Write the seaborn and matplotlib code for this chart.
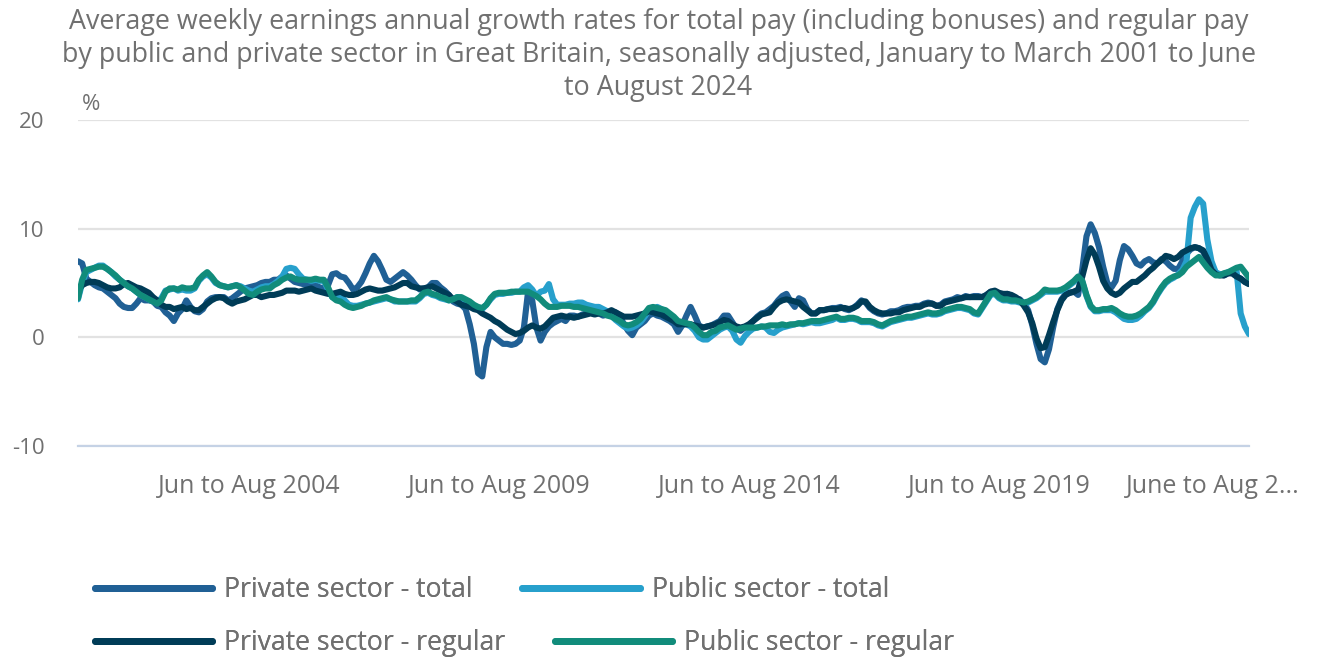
import numpy as np
import pandas as pd
import matplotlib
matplotlib.use("Agg")
import matplotlib.pyplot as plt
from matplotlib.lines import Line2D
from matplotlib.transforms import ScaledTranslation
import seaborn as sns

# --- DATA (one value per rolling 3-month period) ---
# first period: Jan to Mar 2001, last period: Jun to Aug 2024
TITLE_LINES = [
    "Average weekly earnings annual growth rates for total pay (including bonuses) and regular pay",
    "by public and private sector in Great Britain, seasonally adjusted, January to March 2001 to June",
    "to August 2024",
]
Y_UNIT = "%"
TICK_PERIODS = [41, 101, 161, 221, 281]
TICK_LABELS = ["Jun to Aug 2004", "Jun to Aug 2009", "Jun to Aug 2014",
               "Jun to Aug 2019", "June to Aug 2..."]
SERIES = ["Private sector - total", "Public sector - total",
          "Private sector - regular", "Public sector - regular"]
COLORS = ["#206095", "#27a0cc", "#003c57", "#118c7b"]

private_total = [
    7.0, 6.8, 5.4, 5.1, 4.8, 4.6, 4.5, 4.2, 3.9, 3.6, 3.1, 2.8,
    2.7, 2.7, 3.1, 3.6, 3.4, 3.4, 3.3, 2.9, 2.8, 2.3, 2.0, 1.5,
    2.2, 2.6, 3.4, 2.8, 2.4, 2.3, 2.6, 3.3, 3.6, 3.7, 3.7, 3.7,
    3.4, 3.6, 3.9, 4.2, 4.5, 4.6, 4.7, 4.8, 5.0, 5.1, 5.1, 5.3,
    5.3, 5.6, 5.7, 5.4, 5.1, 5.0, 4.9, 4.8, 5.0, 4.8, 4.6, 4.5,
    4.8, 5.8, 5.9, 5.6, 5.5, 5.0, 4.4, 4.6, 5.1, 5.9, 6.8, 7.5,
    7.0, 6.2, 5.3, 5.1, 5.4, 5.7, 6.0, 5.7, 5.3, 4.8, 4.4, 4.5,
    4.6, 5.0, 5.0, 4.6, 4.3, 3.9, 3.3, 3.1, 3.0, 2.6, 1.2, -0.6,
    -3.3, -3.6, -0.9, 0.5, 0.0, -0.3, -0.6, -0.6, -0.7, -0.6, -0.3, 0.9,
    4.2, 3.4, 0.9, -0.3, 0.5, 1.0, 1.3, 1.5, 1.7, 1.5, 2.0, 2.0,
    1.9, 2.1, 2.2, 2.3, 2.4, 2.2, 2.0, 2.1, 2.2, 2.3, 2.0, 1.2,
    0.6, 0.2, 0.9, 1.2, 1.5, 2.0, 2.2, 2.0, 1.9, 1.7, 1.5, 1.2,
    0.5, 1.1, 2.0, 2.8, 2.0, 1.1, 0.9, 1.0, 1.1, 1.3, 1.5, 2.0,
    2.0, 1.4, 0.8, 0.6, 0.9, 1.1, 1.5, 1.9, 2.2, 2.3, 2.6, 2.9,
    3.4, 3.8, 4.0, 3.3, 2.8, 3.6, 3.4, 2.6, 2.2, 2.2, 2.5, 2.5,
    2.6, 2.7, 2.7, 2.8, 2.6, 2.5, 2.7, 3.0, 3.4, 3.2, 2.7, 2.4,
    2.2, 2.1, 2.2, 2.4, 2.4, 2.5, 2.7, 2.8, 2.8, 2.9, 2.9, 3.1,
    3.2, 3.1, 2.9, 3.0, 3.3, 3.4, 3.5, 3.7, 3.6, 3.8, 3.7, 3.8,
    3.8, 3.7, 3.9, 4.2, 4.2, 4.0, 3.9, 4.0, 3.8, 3.6, 3.5, 3.1,
    2.5, 1.1, -0.6, -2.0, -2.3, -1.1, 0.9, 2.6, 3.5, 4.0, 4.1, 4.2,
    3.9, 6.3, 9.3, 10.4, 9.6, 8.3, 6.5, 5.0, 4.6, 5.2, 7.1, 8.4,
    8.1, 7.5, 6.8, 6.6, 7.0, 7.2, 6.9, 6.8, 7.2, 7.0, 6.6, 6.3,
    6.3, 7.0, 7.7, 8.1, 8.3, 8.2, 7.9, 7.1, 6.2, 5.8, 5.8, 5.7,
    5.9, 5.9, 5.6, 5.4, 5.1, 4.9,
]

public_total = [
    3.5, 5.0, 6.0, 6.2, 6.4, 6.6, 6.6, 6.3, 6.0, 5.6, 5.3, 5.0,
    4.7, 4.5, 4.2, 3.9, 3.7, 3.5, 3.3, 3.2, 3.6, 4.3, 4.4, 4.5,
    4.3, 4.4, 4.3, 4.3, 4.5, 5.2, 5.6, 5.8, 5.5, 5.0, 4.8, 4.7,
    4.6, 4.7, 4.8, 4.7, 4.5, 4.3, 4.2, 4.4, 4.6, 4.7, 4.7, 4.9,
    5.2, 5.6, 6.3, 6.4, 6.3, 5.8, 5.4, 5.3, 5.2, 5.3, 5.2, 5.2,
    4.4, 3.7, 3.6, 3.8, 3.4, 3.0, 2.9, 2.9, 3.0, 3.1, 3.2, 3.3,
    3.4, 3.5, 3.6, 3.5, 3.3, 3.3, 3.3, 3.3, 3.3, 3.3, 3.6, 4.0,
    4.1, 3.9, 3.8, 3.6, 3.5, 3.4, 3.5, 3.7, 3.6, 3.4, 3.2, 2.9,
    2.7, 2.6, 3.0, 3.5, 3.9, 4.0, 4.0, 4.1, 4.1, 4.2, 4.2, 4.6,
    4.8, 4.4, 3.8, 4.2, 4.3, 4.9, 3.5, 3.0, 3.0, 3.0, 3.1, 3.1,
    3.2, 3.2, 3.0, 2.9, 2.8, 2.8, 2.6, 2.4, 2.0, 1.6, 1.3, 1.0,
    0.8, 0.9, 1.1, 1.4, 1.9, 2.5, 2.4, 2.8, 2.6, 2.3, 2.0, 1.7,
    1.4, 1.2, 1.2, 1.0, 0.6, 0.0, -0.2, -0.2, 0.1, 0.4, 0.7, 0.9,
    1.0, 0.6, -0.2, -0.5, 0.1, 0.5, 0.8, 0.9, 1.0, 0.9, 0.5, 0.4,
    0.7, 0.9, 1.0, 1.1, 1.2, 1.3, 1.2, 1.3, 1.4, 1.3, 1.3, 1.4,
    1.5, 1.6, 1.8, 1.6, 1.6, 1.7, 1.7, 1.6, 1.4, 1.4, 1.4, 1.3,
    1.1, 1.0, 1.2, 1.4, 1.5, 1.6, 1.7, 1.8, 1.8, 1.9, 2.0, 2.1,
    2.2, 2.1, 2.1, 2.2, 2.4, 2.5, 2.6, 2.7, 2.7, 2.6, 2.5, 2.2,
    2.1, 2.7, 3.3, 3.9, 4.0, 3.6, 3.4, 3.4, 3.3, 3.3, 3.2, 3.1,
    3.2, 3.4, 3.6, 3.9, 4.2, 4.2, 4.2, 4.2, 4.3, 4.5, 4.8, 5.1,
    5.5, 5.1, 3.8, 2.8, 2.4, 2.4, 2.5, 2.5, 2.5, 2.3, 2.0, 1.7,
    1.6, 1.6, 1.7, 2.0, 2.4, 2.7, 3.2, 3.9, 4.5, 5.0, 5.3, 5.5,
    5.8, 6.2, 7.0, 11.0, 12.0, 12.7, 12.3, 9.0, 7.0, 6.0, 5.8, 5.8,
    6.0, 6.0, 6.2, 2.2, 1.0, 0.3,
]

private_regular = [
    4.3, 4.8, 5.0, 5.1, 5.1, 5.0, 4.8, 4.6, 4.5, 4.5, 4.6, 4.9,
    5.0, 4.8, 4.6, 4.5, 4.3, 4.1, 3.7, 3.4, 3.0, 2.8, 2.8, 2.6,
    2.7, 2.8, 2.6, 2.7, 2.5, 2.5, 2.8, 3.1, 3.4, 3.6, 3.7, 3.6,
    3.3, 3.1, 3.3, 3.4, 3.5, 3.7, 3.9, 3.9, 3.7, 3.8, 3.9, 3.9,
    4.0, 4.1, 4.3, 4.3, 4.3, 4.2, 4.3, 4.4, 4.5, 4.3, 4.2, 4.1,
    4.0, 4.0, 4.1, 4.2, 4.0, 3.9, 3.9, 4.0, 4.2, 4.4, 4.5, 4.4,
    4.3, 4.3, 4.4, 4.5, 4.6, 4.8, 5.0, 5.0, 4.7, 4.6, 4.5, 4.5,
    4.6, 4.7, 4.5, 4.3, 4.1, 3.9, 3.5, 3.3, 3.0, 2.9, 2.8, 2.6,
    2.5, 2.2, 2.0, 1.8, 1.5, 1.3, 1.0, 0.7, 0.5, 0.3, 0.4, 0.6,
    0.9, 1.1, 0.9, 0.8, 1.0, 1.4, 1.8, 1.9, 2.0, 1.9, 1.9, 1.8,
    1.9, 2.0, 2.1, 2.2, 2.1, 2.2, 2.2, 2.3, 2.5, 2.3, 2.1, 1.9,
    1.9, 1.9, 2.0, 2.1, 2.2, 2.4, 2.3, 2.2, 2.1, 1.9, 1.7, 1.5,
    1.2, 1.2, 1.2, 1.2, 1.1, 1.0, 0.9, 1.0, 1.1, 1.2, 1.4, 1.6,
    1.5, 1.2, 1.0, 0.9, 1.0, 1.2, 1.5, 1.8, 2.1, 2.2, 2.3, 2.8,
    3.2, 3.4, 3.5, 3.4, 3.3, 3.2, 2.8, 2.5, 2.2, 2.2, 2.5, 2.5,
    2.6, 2.6, 2.6, 2.7, 2.7, 2.6, 2.7, 2.9, 3.3, 3.3, 2.8, 2.5,
    2.3, 2.2, 2.2, 2.2, 2.3, 2.3, 2.5, 2.6, 2.7, 2.8, 2.8, 3.0,
    3.1, 3.1, 2.9, 2.9, 3.2, 3.3, 3.4, 3.5, 3.6, 3.7, 3.7, 3.7,
    3.7, 3.7, 3.9, 4.2, 4.3, 4.1, 4.0, 4.0, 3.9, 3.7, 3.4, 2.9,
    2.3, 1.3, -0.1, -1.0, -0.9, 0.2, 1.4, 2.5, 3.4, 3.9, 4.1, 4.2,
    4.4, 5.6, 7.1, 8.2, 7.6, 6.5, 5.2, 4.5, 4.1, 3.9, 4.1, 4.5,
    4.8, 5.1, 5.1, 5.4, 5.7, 6.1, 6.4, 6.8, 7.1, 7.5, 7.4, 7.2,
    7.4, 7.8, 8.0, 8.2, 8.3, 8.2, 8.0, 7.2, 6.2, 5.8, 5.7, 5.7,
    5.9, 5.9, 5.6, 5.4, 5.1, 4.9,
]

public_regular = [
    3.6, 5.3, 6.2, 6.3, 6.4, 6.5, 6.5, 6.3, 6.0, 5.7, 5.3, 5.0,
    4.7, 4.5, 4.2, 3.9, 3.7, 3.5, 3.3, 3.1, 3.4, 4.2, 4.5, 4.5,
    4.4, 4.6, 4.5, 4.5, 4.6, 5.3, 5.7, 6.0, 5.6, 5.1, 4.8, 4.7,
    4.6, 4.7, 4.8, 4.6, 4.3, 4.0, 3.9, 4.2, 4.4, 4.5, 4.5, 4.8,
    5.0, 5.3, 5.5, 5.6, 5.4, 5.3, 5.3, 5.3, 5.3, 5.4, 5.3, 5.3,
    4.6, 3.7, 3.4, 3.3, 3.0, 2.8, 2.7, 2.8, 2.9, 3.1, 3.2, 3.4,
    3.5, 3.6, 3.7, 3.5, 3.4, 3.3, 3.3, 3.3, 3.4, 3.4, 3.7, 4.1,
    4.2, 4.0, 3.9, 3.7, 3.6, 3.4, 3.5, 3.7, 3.7, 3.5, 3.3, 3.0,
    2.8, 2.7, 3.0, 3.6, 4.0, 4.1, 4.1, 4.1, 4.2, 4.2, 4.2, 4.2,
    4.2, 4.0, 3.8, 3.5, 3.1, 2.8, 2.8, 2.8, 2.9, 2.9, 2.9, 2.8,
    2.8, 2.7, 2.6, 2.5, 2.4, 2.3, 2.2, 2.0, 1.9, 1.7, 1.5, 1.2,
    1.1, 1.2, 1.4, 1.7, 2.2, 2.7, 2.8, 2.7, 2.6, 2.5, 2.2, 1.9,
    1.5, 1.4, 1.3, 1.2, 0.9, 0.5, 0.2, 0.2, 0.5, 0.6, 0.9, 1.0,
    1.1, 0.9, 0.7, 0.8, 0.9, 0.9, 0.9, 0.9, 1.0, 1.0, 1.1, 1.1,
    1.1, 1.2, 1.1, 1.2, 1.2, 1.3, 1.3, 1.4, 1.5, 1.5, 1.5, 1.6,
    1.7, 1.8, 1.9, 1.7, 1.7, 1.8, 1.8, 1.7, 1.5, 1.5, 1.5, 1.4,
    1.2, 1.1, 1.3, 1.5, 1.6, 1.7, 1.8, 1.9, 1.9, 2.0, 2.1, 2.2,
    2.3, 2.2, 2.2, 2.3, 2.5, 2.6, 2.7, 2.8, 2.8, 2.7, 2.6, 2.3,
    2.2, 2.8, 3.4, 4.0, 4.1, 3.7, 3.5, 3.5, 3.4, 3.4, 3.3, 3.2,
    3.3, 3.5, 3.7, 4.0, 4.4, 4.3, 4.3, 4.3, 4.4, 4.6, 4.9, 5.2,
    5.6, 5.2, 3.9, 2.9, 2.5, 2.5, 2.6, 2.6, 2.7, 2.5, 2.2, 2.0,
    1.9, 1.9, 2.0, 2.2, 2.5, 2.8, 3.3, 4.0, 4.6, 5.1, 5.4, 5.6,
    5.7, 6.0, 6.5, 6.8, 7.1, 7.4, 6.9, 6.4, 6.0, 5.7, 5.7, 5.9,
    6.0, 6.2, 6.4, 6.5, 6.0, 5.5,
]

GREY = "#707070"
AXIS_BLUE = "#c5d2e5"


def main():
    df = pd.DataFrame({
        "period": np.arange(len(private_total)),
        SERIES[0]: private_total,
        SERIES[1]: public_total,
        SERIES[2]: private_regular,
        SERIES[3]: public_regular,
    })
    long_df = df.melt(id_vars="period", var_name="series", value_name="growth")

    sns.set_style("white")
    plt.rcParams["font.family"] = ["Open Sans", "DejaVu Sans"]

    W, H = 1317, 660
    fig = plt.figure(figsize=(W / 100, H / 100), dpi=100)
    ax = fig.add_axes([78 / W, 1 - 446 / H, (1249 - 78) / W, (446 - 120) / H])

    sns.lineplot(data=long_df, x="period", y="growth", hue="series",
                 hue_order=SERIES, palette=dict(zip(SERIES, COLORS)),
                 linewidth=4.4, legend=False, ax=ax)

    # --- AXES ---
    ax.set_xlim(0, len(private_total) - 1)
    ax.set_ylim(-10, 20)
    ax.set_yticks([-10, 0, 10, 20])
    ax.set_yticklabels(["-10", "0", "10", "20"])
    ax.set_xticks(TICK_PERIODS)
    ax.set_xticklabels(TICK_LABELS)
    ax.set_xlabel("")
    ax.set_ylabel("")
    ax.yaxis.grid(True, color="#e2e2e2", linewidth=1.6)
    ax.xaxis.grid(False)
    ax.set_axisbelow(True)
    for side in ["top", "right", "left"]:
        ax.spines[side].set_visible(False)
    ax.spines["bottom"].set_color(AXIS_BLUE)
    ax.spines["bottom"].set_linewidth(1.6)
    ax.tick_params(axis="x", length=15, width=1.6, color=AXIS_BLUE,
                   labelcolor=GREY, labelsize=18, pad=5)
    ax.tick_params(axis="y", length=0, labelcolor=GREY, labelsize=16, pad=24)

    # last label is pushed left so it stays inside the figure
    last = ax.get_xticklabels()[-1]
    last.set_transform(last.get_transform()
                       + ScaledTranslation(-0.36, 0, fig.dpi_scale_trans))

    fig.text(82 / W, 1 - 104 / H, Y_UNIT, color=GREY, fontsize=16,
             ha="left", va="center")

    # --- TITLE (one text per line) ---
    for line, yc in zip(TITLE_LINES, [22, 55, 88]):
        fig.text(0.5, 1 - yc / H, line, ha="center", va="center",
                 color=GREY, fontsize=19.4)

    # --- LEGEND (two rows, flowing like the original) ---
    rows = [(0, 1, 590), (2, 3, 643)]
    for a, b, y in rows:
        handles = [Line2D([0], [0], color=COLORS[k], linewidth=5) for k in (a, b)]
        leg = fig.legend(handles, [SERIES[a], SERIES[b]], loc="center left",
                         bbox_to_anchor=(95 / W, 1 - y / H), ncol=2,
                         frameon=False, borderpad=0, borderaxespad=0,
                         handlelength=4.4, handletextpad=0.45,
                         columnspacing=1.85, fontsize=19.2)
        for t in leg.get_texts():
            t.set_color(GREY)
        fig.add_artist(leg)

    fig.savefig("out.png", dpi=100)


if __name__ == "__main__":
    main()
